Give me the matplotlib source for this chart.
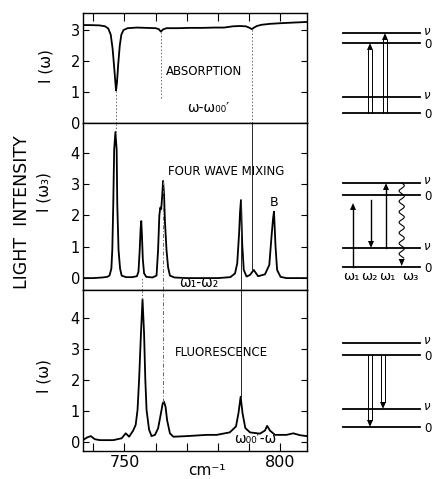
import numpy as np
import matplotlib
matplotlib.use('Agg')
import matplotlib.pyplot as plt
from matplotlib.patches import Polygon

# ---------------- data ----------------
absorb_x = [736.6, 739.0, 742.0, 743.8, 744.8, 745.6, 746.2, 746.7, 747.1, 747.3,
            747.6, 748.0, 748.5, 749.0, 749.7, 751.0, 754.0, 757.0, 760.0, 761.0,
            761.7, 762.4, 763.5, 767.0, 771.0, 775.0, 779.0, 782.0, 784.8, 787.0,
            789.0, 790.2, 790.9, 791.6, 792.5, 794.0, 796.7, 800.0, 804.0, 808.5]
absorb_y = [3.16, 3.16, 3.15, 3.12, 3.05, 2.85, 2.40, 1.80, 1.30, 1.05,
            1.30, 1.90, 2.50, 2.85, 3.00, 3.06, 3.08, 3.07, 3.06, 3.03,
            2.95, 3.02, 3.06, 3.06, 3.07, 3.07, 3.08, 3.08, 3.12, 3.13,
            3.12, 3.07, 3.03, 3.08, 3.13, 3.17, 3.20, 3.22, 3.24, 3.26]

fwm_x = [736.6, 740.0, 743.0, 744.5, 745.2, 745.8, 746.1, 746.4, 746.7, 747.1,
         747.5, 747.7, 748.1, 748.6, 749.1, 750.5, 752.5, 754.0, 754.5, 754.9,
         755.2, 755.4, 755.6, 755.9, 756.3, 757.0, 759.0, 760.3, 760.8, 761.2,
         761.5, 761.8, 762.1, 762.4, 762.7, 763.0, 763.5, 764.0, 764.6, 766.0,
         770.0, 775.0, 780.0, 784.0, 785.5, 786.2, 786.8, 787.1, 787.4, 787.8,
         788.3, 789.2, 790.3, 791.5, 792.9, 795.1, 796.5, 797.2, 797.7, 798.0,
         798.5, 799.0, 800.1, 802.0, 805.0, 808.5]
fwm_y = [0.00, 0.00, 0.02, 0.04, 0.08, 0.30, 0.90, 2.30, 4.10, 4.66,
         4.10, 2.35, 0.90, 0.30, 0.08, 0.03, 0.03, 0.06, 0.20, 0.90,
         1.60, 1.82, 1.40, 0.60, 0.15, 0.04, 0.02, 0.08, 0.90, 2.00,
         2.25, 2.20, 2.60, 3.10, 2.70, 1.80, 0.90, 0.35, 0.08, 0.02,
         0.00, 0.00, 0.00, 0.03, 0.15, 0.47, 1.43, 2.10, 2.49, 1.10,
         0.26, 0.05, 0.10, 0.26, 0.06, 0.12, 0.42, 1.32, 1.90, 2.12,
         1.00, 0.26, 0.04, 0.00, 0.00, 0.00]

fluor_x = [736.6, 738.1, 739.2, 740.5, 742.1, 746.4, 749.1, 750.4, 751.5, 752.8,
           753.6, 754.2, 754.7, 755.3, 755.8, 756.3, 756.7, 757.1, 757.9, 758.7,
           759.8, 760.8, 761.7, 762.3, 762.7, 763.2, 763.7, 764.6, 765.7, 770.0,
           776.4, 779.6, 783.8, 785.8, 786.6, 787.3, 787.9, 788.8, 790.3, 793.5,
           795.1, 795.8, 796.7, 798.3, 802.0, 804.2, 806.3, 808.5]
fluor_y = [0.06, 0.15, 0.19, 0.09, 0.06, 0.06, 0.12, 0.28, 0.17, 0.37,
           0.55, 1.03, 2.00, 3.50, 4.60, 3.50, 2.00, 1.03, 0.40, 0.19,
           0.23, 0.44, 0.92, 1.25, 1.30, 1.13, 0.70, 0.28, 0.17, 0.19,
           0.23, 0.23, 0.31, 0.50, 0.93, 1.46, 0.93, 0.45, 0.31, 0.27,
           0.37, 0.52, 0.37, 0.23, 0.23, 0.28, 0.22, 0.19]

xticks = [740, 750, 760, 770, 780, 790, 800]
xticklabels = ['', '750', '', '', '', '', '800']
abs_yticks = [0, 1, 2, 3]
fwm_yticks = [0, 1, 2, 3, 4]
flu_yticks = [0, 1, 2, 3, 4]

# guide lines: (x, y_top, y_bottom, style)
guide_abs = [(747.3, 1.05, 0.0, 'dot'), (761.7, 2.95, 0.8, 'dot'), (791.1, 3.03, 0.0, 'dot')]
guide_fwm = [(747.3, 4.95, 4.66, 'dot'), (755.6, 0.0, -0.38, 'dot'),
             (762.5, 3.1, -0.38, 'dash'), (787.3, 2.49, -0.38, 'solid'),
             (791.1, 4.95, 0.26, 'solid')]
guide_flu = [(755.6, 4.9, 4.6, 'dot'), (762.5, 4.9, 1.3, 'dash'), (787.3, 4.9, 1.46, 'solid')]

# ---------------- figure ----------------
W, H = 435, 479
fig = plt.figure(figsize=(W / 100, H / 100), dpi=100)

def rect(x0, y0, x1, y1):
    return [x0 / W, 1 - y1 / H, (x1 - x0) / W, (y1 - y0) / H]

XL, XR = 82.7, 306.7
ax_abs = fig.add_axes(rect(XL, 13, XR, 123))
ax_fwm = fig.add_axes(rect(XL, 123, XR, 290))
ax_flu = fig.add_axes(rect(XL, 290, XR, 451))

xlim = (736.6, 808.5)
styles = {'dot': dict(color='0.4', lw=0.7, ls=(0, (1.5, 2))),
          'dash': dict(color='0.4', lw=0.7, ls=(0, (4, 2, 1, 2))),
          'solid': dict(color='0.15', lw=0.7, ls='-')}

for ax, x, y, yt, ylim, guides in [
        (ax_abs, absorb_x, absorb_y, abs_yticks, (0, 3.55), guide_abs),
        (ax_fwm, fwm_x, fwm_y, fwm_yticks, (-0.38, 4.95), guide_fwm),
        (ax_flu, fluor_x, fluor_y, flu_yticks, (-0.29, 4.9), guide_flu)]:
    ax.plot(x, y, color='black', lw=1.3, solid_joinstyle='round')
    for gx, g1, g0, st in guides:
        ax.plot([gx, gx], [g0, g1], **styles[st])
    ax.set_xlim(*xlim)
    ax.set_ylim(*ylim)
    ax.set_yticks(yt)
    ax.set_yticklabels([str(v) for v in yt])
    ax.tick_params(axis='y', direction='in', length=4, width=0.8, left=True, right=True,
                   labelsize=10.5, pad=2)
    for s in ax.spines.values():
        s.set_linewidth(1.0)
    ax.set_xticks(xticks)

ax_abs.tick_params(axis='x', direction='in', length=6, width=0.8, top=True, bottom=False,
                   labelbottom=False, labeltop=False)
ax_fwm.tick_params(axis='x', bottom=False, top=False, labelbottom=False)
ax_flu.set_xticklabels(xticklabels)
ax_flu.tick_params(axis='x', direction='in', length=6, width=0.8, top=False, bottom=True,
                   labelsize=11.5, pad=3)

# panel texts
ax_abs.text(775.5, 1.65, 'ABSORPTION', ha='center', va='center', fontsize=8.5)
ax_abs.text(777.0, 0.5, 'ω-ω₀₀′', ha='center', va='center', fontsize=10)
ax_fwm.text(782.6, 3.39, 'FOUR WAVE MIXING', ha='center', va='center', fontsize=8.5)
ax_fwm.text(798.0, 2.42, 'B', ha='center', va='center', fontsize=9)
ax_fwm.text(773.7, -0.17, 'ω₁-ω₂', ha='center', va='center', fontsize=10)
ax_flu.text(781.2, 2.9, 'FLUORESCENCE', ha='center', va='center', fontsize=8.5)
ax_flu.text(791.9, 0.1, 'ω₀₀′-ω', ha='center', va='center', fontsize=10)

# ---------------- overlay in pixel coordinates ----------------
axd = fig.add_axes([0, 0, 1, 1])
axd.set_xlim(0, W)
axd.set_ylim(H, 0)
axd.axis('off')
axd.patch.set_visible(False)

axd.text(22, 212, 'LIGHT  INTENSITY', rotation=90, ha='center', va='center', fontsize=12.5)
axd.text(46, 66, 'I (ω)', rotation=90, ha='center', va='center', fontsize=11)
axd.text(44, 192, 'I (ω₃)', rotation=90, ha='center', va='center', fontsize=11)
axd.text(44, 376, 'I (ω)', rotation=90, ha='center', va='center', fontsize=11)
axd.text(207, 463, 'cm⁻¹', ha='center', va='top', fontsize=11)

# energy level diagrams
lev_x0, lev_x1, lab_x = 343, 420, 424
diag_levels = [[33, 43, 97, 113], [183, 195, 248, 267], [343, 355, 409, 427]]
lev_labels = ['ν', '0', 'ν', '0']
lab_shift = [-2, 1.5, -2, 1.5]

for levels in diag_levels:
    for ly, lab, sh in zip(levels, lev_labels, lab_shift):
        axd.plot([lev_x0, lev_x1], [ly, ly], color='black', lw=1.3)
        axd.text(lab_x, ly + sh, lab, ha='left', va='center', fontsize=8.5,
                 style='italic' if lab == 'ν' else 'normal')

def head(x, y_tip, direction, w=6, l=7):
    yb = y_tip - direction * l
    axd.add_patch(Polygon([[x - w / 2, yb], [x + w / 2, yb], [x, y_tip]],
                          closed=True, color='black', lw=0))
    return yb

def double_arrow(x, y0, y1, gap=3.4):
    d = 1 if y1 > y0 else -1
    yb = head(x, y1, d)
    for dx in (-gap / 2, gap / 2):
        axd.plot([x + dx, x + dx], [y0, yb], color='black', lw=0.7)

def single_arrow(x, y0, y1):
    d = 1 if y1 > y0 else -1
    yb = head(x, y1, d)
    axd.plot([x, x], [y0, yb], color='black', lw=1.0)

# absorption diagram
double_arrow(370, 113, 43)
double_arrow(385, 113, 33)
# four-wave mixing diagram
single_arrow(353, 267, 203)
single_arrow(371, 200, 248)
single_arrow(386, 248, 183)
yy = np.linspace(183, 258, 200)
axd.plot(401.7 + 2.6 * np.sin(2 * np.pi * (yy - 183) / 10.5), yy, color='black', lw=0.8)
head(401.7, 266, 1)
for lx, lab in zip([351, 369.5, 387, 410], ['ω₁', 'ω₂', 'ω₁', 'ω₃']):
    axd.text(lx, 277, lab, ha='center', va='center', fontsize=9.5)
# fluorescence diagram
double_arrow(370, 355, 427)
double_arrow(383, 355, 409)

fig.savefig('out.png', dpi=100)
